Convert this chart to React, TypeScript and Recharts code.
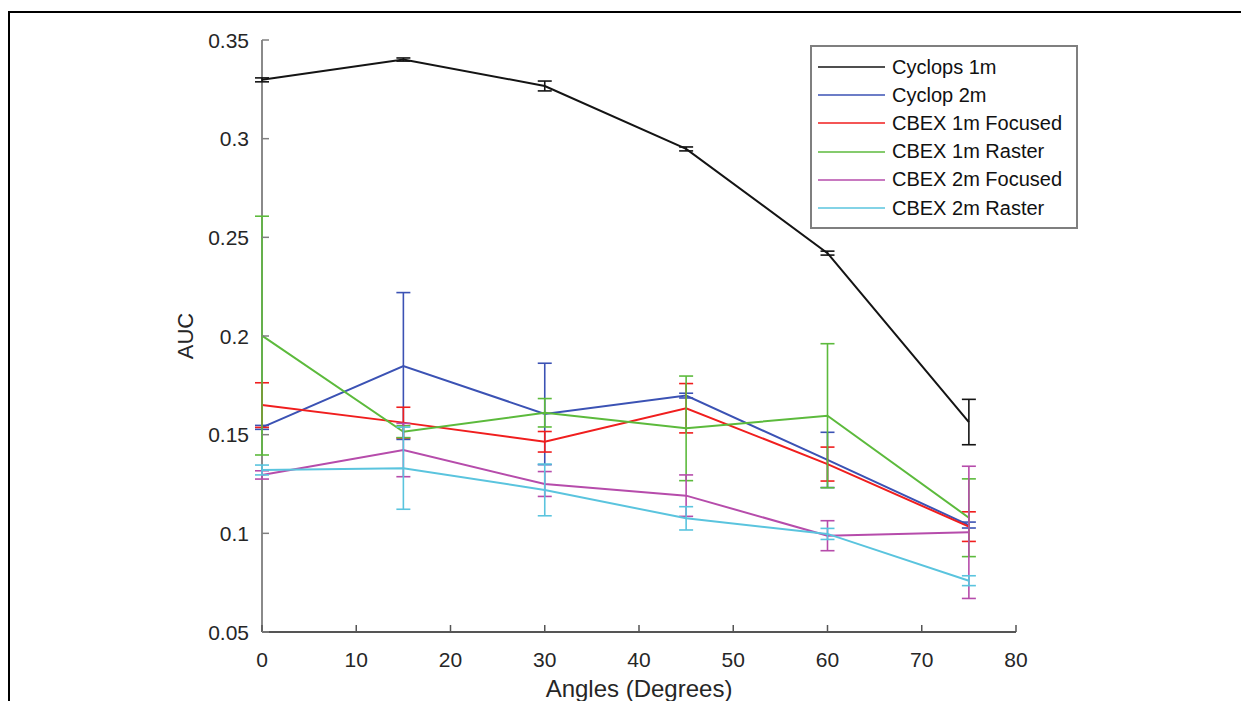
import React from 'react';
import { LineChart, Line, XAxis, YAxis, ErrorBar, Legend, Label } from 'recharts';

const angles = [0, 15, 30, 45, 60, 75];

const cyclops1m = [0.3298, 0.3401, 0.3267, 0.2948, 0.242, 0.1564];
const cyclops1mErr = [0.001, 0.0008, 0.0025, 0.001, 0.001, 0.0115];

const cyclop2m = [0.1537, 0.1848, 0.1605, 0.1698, 0.1372, 0.1042];
const cyclop2mErr = [0.001, 0.0372, 0.0257, 0.0012, 0.014, 0.0015];

const cbex1mFocused = [0.165, 0.1561, 0.1464, 0.1634, 0.1351, 0.1034];
const cbex1mFocusedErr = [0.0113, 0.0078, 0.0052, 0.0125, 0.0086, 0.0075];

const cbex1mRaster = [0.2002, 0.1515, 0.1611, 0.1532, 0.1596, 0.1079];
const cbex1mRasterErr = [0.0605, 0.003, 0.0072, 0.0265, 0.0365, 0.0197];

const cbex2mFocused = [0.1296, 0.1422, 0.125, 0.1191, 0.0988, 0.1005];
const cbex2mFocusedErr = [0.0021, 0.0135, 0.0063, 0.0105, 0.0076, 0.0335];

const cbex2mRaster = [0.1321, 0.133, 0.122, 0.1076, 0.0997, 0.076];
const cbex2mRasterErr = [0.0025, 0.0208, 0.0131, 0.0059, 0.0028, 0.0025];

const xTicks = [0, 10, 20, 30, 40, 50, 60, 70, 80];
const yTicks = [0.05, 0.1, 0.15, 0.2, 0.25, 0.3, 0.35];

const FONT = '"Liberation Sans", Arial, sans-serif';
const TEXT = '#262626';

const W = 1233;
const H = 693;
const MARGIN = { top: 32, right: 225, bottom: 29, left: 194 };
const Y_AXIS_W = 60;
const X_AXIS_H = 40;

const series = [
  { key: 'cyclops1m', name: 'Cyclops 1m', color: '#141414', values: cyclops1m, errors: cyclops1mErr },
  { key: 'cyclop2m', name: 'Cyclop 2m', color: '#3b52b4', values: cyclop2m, errors: cyclop2mErr },
  { key: 'cbex1mFocused', name: 'CBEX 1m Focused', color: '#f01e1e', values: cbex1mFocused, errors: cbex1mFocusedErr },
  { key: 'cbex1mRaster', name: 'CBEX 1m Raster', color: '#5cba3c', values: cbex1mRaster, errors: cbex1mRasterErr },
  { key: 'cbex2mFocused', name: 'CBEX 2m Focused', color: '#b64cab', values: cbex2mFocused, errors: cbex2mFocusedErr },
  { key: 'cbex2mRaster', name: 'CBEX 2m Raster', color: '#5ac4de', values: cbex2mRaster, errors: cbex2mRasterErr },
];

const data = angles.map((angle, i) => {
  const row: Record<string, number> = { angle };
  series.forEach((s) => {
    row[s.key] = s.values[i];
    row[s.key + 'Err'] = s.errors[i];
  });
  return row;
});

const fmtY = (v: number) => String(parseFloat(v.toFixed(2)));

// matlab-style ticks: marks point into the plot
const YTick = (props: any) => {
  const { x, y, payload } = props;
  return (
    <g>
      <line x1={x + 13} x2={x + 20} y1={y} y2={y} stroke="#808080" strokeWidth={1.5} />
      <text x={x} y={y} dy={7.5} textAnchor="end" fontSize={21} fill={TEXT} fontFamily={FONT}>
        {fmtY(payload.value)}
      </text>
    </g>
  );
};

const XTick = (props: any) => {
  const { x, y, payload } = props;
  return (
    <g>
      <line x1={x} x2={x} y1={y} y2={y - 7} stroke="#555" strokeWidth={1.5} />
      <text x={x} y={y + 35} textAnchor="middle" fontSize={21} fill={TEXT} fontFamily={FONT}>
        {payload.value}
      </text>
    </g>
  );
};

// legend keeps the plotting order of the series
const renderLegend = () => (
  <div
    style={{
      width: 264,
      height: 174,
      border: '2px solid #7f7f7f',
      background: '#fff',
      paddingTop: 6,
      boxSizing: 'content-box',
      fontFamily: FONT,
    }}
  >
    {series.map((s) => (
      <div key={s.key} style={{ display: 'flex', alignItems: 'center', height: 28.2 }}>
        <span
          style={{
            display: 'inline-block',
            width: 67,
            height: 0,
            borderTop: `2.5px solid ${s.color}`,
            marginLeft: 6,
            marginRight: 7,
            opacity: 0.75,
          }}
        />
        <span style={{ fontSize: 20, color: '#111', whiteSpace: 'nowrap' }}>{s.name}</span>
      </div>
    ))}
  </div>
);

export default function App() {
  const plotLeft = MARGIN.left + Y_AXIS_W;
  const plotBottom = H - MARGIN.bottom - X_AXIS_H;
  return (
    <div style={{ position: 'relative', width: W, height: H, background: '#fff' }}>
      <div
        style={{
          position: 'absolute',
          left: 0,
          top: 3,
          width: W,
          height: 698,
          borderTop: '2.5px solid #000',
          borderLeft: '2.5px solid #000',
          boxSizing: 'border-box',
        }}
      />
      {/* y axis spine sits under the series so the error bars at 0 stay visible */}
      <div
        style={{
          position: 'absolute',
          left: plotLeft - 1,
          top: MARGIN.top,
          width: 2,
          height: plotBottom - MARGIN.top,
          background: '#8a8a8a',
        }}
      />
      <LineChart
        width={W}
        height={H}
        data={data}
        margin={MARGIN}
        style={{ position: 'absolute', left: 0, top: 0 }}
      >
        <XAxis
          dataKey="angle"
          type="number"
          domain={[0, 80]}
          ticks={xTicks}
          height={X_AXIS_H}
          tickSize={0}
          tickMargin={0}
          tickLine={false}
          tick={<XTick />}
          axisLine={{ stroke: '#555', strokeWidth: 2 }}
          interval={0}
        >
          <Label
            content={({ viewBox }: any) => (
              <text
                x={viewBox.x + viewBox.width / 2}
                y={viewBox.y + 65}
                textAnchor="middle"
                fontSize={24}
                fill={TEXT}
                fontFamily={FONT}
              >
                Angles (Degrees)
              </text>
            )}
          />
        </XAxis>
        <YAxis
          type="number"
          domain={[0.05, 0.35]}
          ticks={yTicks}
          width={Y_AXIS_W}
          tickSize={0}
          tickMargin={13}
          tickLine={false}
          tick={<YTick />}
          axisLine={false}
          interval={0}
          allowDataOverflow
        >
          <Label
            content={({ viewBox }: any) => {
              const cx = viewBox.x - 9;
              const cy = viewBox.y + viewBox.height / 2;
              return (
                <text
                  x={cx}
                  y={cy}
                  textAnchor="middle"
                  fontSize={22}
                  fill={TEXT}
                  fontFamily={FONT}
                  transform={`rotate(-90 ${cx} ${cy})`}
                >
                  AUC
                </text>
              );
            }}
          />
        </YAxis>
        <Legend
          layout="vertical"
          align="center"
          verticalAlign="middle"
          content={renderLegend}
          wrapperStyle={{ left: 802, top: 37, width: 'auto' }}
        />
        {series.map((s) => (
          <Line
            key={s.key}
            dataKey={s.key}
            name={s.name}
            stroke={s.color}
            strokeWidth={2}
            dot={false}
            activeDot={false}
            isAnimationActive={false}
          >
            <ErrorBar
              dataKey={s.key + 'Err'}
              direction="y"
              width={7}
              stroke={s.color}
              strokeWidth={1.6}
              isAnimationActive={false}
            />
          </Line>
        ))}
      </LineChart>
    </div>
  );
}
